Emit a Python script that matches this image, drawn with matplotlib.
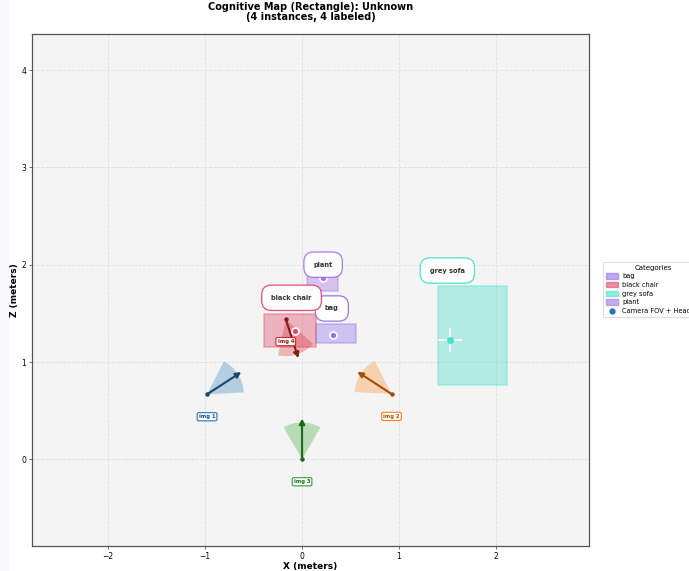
import matplotlib
matplotlib.use("Agg")
import matplotlib.pyplot as plt
from matplotlib.patches import Rectangle, Wedge, Patch
from matplotlib.lines import Line2D
import numpy as np

# objects (x/z in meters)
categories = ["bag", "black chair", "grey sofa", "plant"]
obj_xmin = [0.145, -0.39, 1.405, 0.055]
obj_xmax = [0.56, 0.15, 2.12, 0.37]
obj_zmin = [1.20, 1.155, 0.76, 1.73]
obj_zmax = [1.395, 1.495, 1.785, 1.95]
obj_cx = [0.323, -0.072, 1.53, 0.22]
obj_cz = [1.278, 1.316, 1.23, 1.865]
label_x = [0.31, -0.105, 1.50, 0.22]
label_z = [1.55, 1.66, 1.94, 2.00]
obj_colors = ["#8f72ea", "#e0476a", "#48e0cc", "#a474e6"]

# cameras
cam_names = ["img 1", "img 2", "img 3", "img 4"]
cam_x = [-0.976, 0.925, 0.003, -0.165]
cam_z = [0.668, 0.672, 0.0, 1.44]
cam_heading = [33, 147, 90, -72]  # degrees
cam_colors = ["#1f77b4", "#ff7f0e", "#2ca02c", "#d62728"]
cam_dark = ["#17486e", "#a34f08", "#1b6a1b", "#8a1a1a"]
fov_deg = 60
fov_r = 0.38
arrow_len = 0.42

fig = plt.figure(figsize=(6.89, 5.71), dpi=100)
fig.patches.append(Rectangle((0, 0), 8 / 689, 1, transform=fig.transFigure,
                             color="#f7f8fa", zorder=-10))
ax = fig.add_axes([32 / 689, 1 - 546 / 571, 557 / 689, 512 / 571])
ax.set_facecolor("#f4f4f4")

for i, cat in enumerate(categories):
    c = obj_colors[i]
    ax.add_patch(Rectangle((obj_xmin[i], obj_zmin[i]),
                           obj_xmax[i] - obj_xmin[i], obj_zmax[i] - obj_zmin[i],
                           facecolor=c, edgecolor=c, alpha=0.38, lw=1.2, zorder=2))
    if cat == "grey sofa":
        ax.plot(obj_cx[i], obj_cz[i], marker="+", ms=17, mew=1.2,
                color="white", zorder=5)
        ax.plot(obj_cx[i], obj_cz[i], "o", ms=4, color=c, mec=c, zorder=6)
    else:
        ax.plot(obj_cx[i], obj_cz[i], "o", ms=5, mfc=c, mec="white",
                mew=1.2, zorder=6)
    ax.text(label_x[i], label_z[i], cat, fontsize=4.8, fontweight="bold",
            color="#333333", ha="center", va="center", zorder=8,
            bbox=dict(boxstyle="round,pad=1.45", fc="white", ec=c,
                      lw=0.9, alpha=0.95))

for i, name in enumerate(cam_names):
    x, z, h = cam_x[i], cam_z[i], cam_heading[i]
    ax.add_patch(Wedge((x, z), fov_r, h - fov_deg / 2, h + fov_deg / 2,
                       facecolor=cam_colors[i], edgecolor="none",
                       alpha=0.3, zorder=3))
    ex = x + arrow_len * np.cos(np.radians(h))
    ez = z + arrow_len * np.sin(np.radians(h))
    ax.annotate("", xy=(ex, ez), xytext=(x, z), zorder=4,
                arrowprops=dict(arrowstyle="-|>", color=cam_dark[i], lw=1.5,
                                mutation_scale=8, shrinkA=0, shrinkB=0))
    ax.plot(x, z, "o", ms=2.2, color=cam_dark[i], zorder=5)
    ax.text(x, z - 0.23, name, fontsize=3.8, fontweight="bold",
            color=cam_dark[i], ha="center", va="center", zorder=7,
            bbox=dict(boxstyle="round,pad=0.3", fc="white",
                      ec=cam_colors[i], lw=0.8))

ax.set_xlim(-2.78, 2.96)
ax.set_ylim(-0.89, 4.37)
ax.set_xticks([-2, -1, 0, 1, 2])
ax.set_yticks([0, 1, 2, 3, 4])
ax.tick_params(labelsize=5.5, length=2.5, width=0.6, color="#555555", pad=1.5)
ax.grid(True, ls="--", lw=0.6, color="#dddddd")
ax.set_axisbelow(True)
for s in ax.spines.values():
    s.set_color("#555555")
    s.set_linewidth(0.9)

ax.set_xlabel("X (meters)", fontsize=6.5, fontweight="bold", labelpad=1)
ax.set_ylabel("Z (meters)", fontsize=6.5, fontweight="bold", labelpad=2)
ax.set_title("Cognitive Map (Rectangle): Unknown\n(4 instances, 4 labeled)",
             fontsize=7, fontweight="bold", pad=10, linespacing=1.05)

handles = [Patch(facecolor=c, edgecolor=c, alpha=0.6) for c in obj_colors]
handles.append(Line2D([], [], marker="o", ls="none", color="#1f77b4", ms=3.5))
labels = categories + ["Camera FOV + Heading"]
leg = ax.legend(handles, labels, title="Categories", loc="upper left",
                bbox_to_anchor=(1.025, 0.555), fontsize=4.8, title_fontsize=5,
                frameon=True, borderaxespad=0, handlelength=1.9,
                handleheight=0.9, handletextpad=0.6, labelspacing=0.4)
leg.get_frame().set_edgecolor("#cccccc")
leg.get_frame().set_linewidth(0.6)

fig.savefig("out.png", dpi=100)
